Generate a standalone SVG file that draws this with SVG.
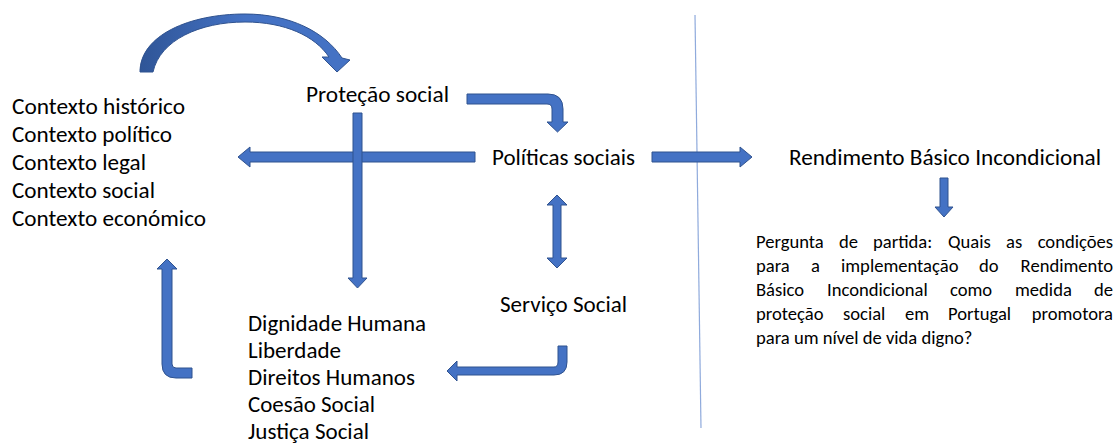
<svg xmlns="http://www.w3.org/2000/svg" width="1118" height="443" viewBox="0 0 1118 443">
<style>
.t{font-family:Carlito,Lato,"Liberation Sans",sans-serif;font-size:23px;fill:#000}
.p{font-family:Carlito,Lato,"Liberation Sans",sans-serif;font-size:18.6px;fill:#000}
.a{fill:#4472C4;stroke:#2F528F;stroke-width:1;stroke-linejoin:miter}
.sep{stroke:#8FAADC;stroke-width:1.2;fill:none}
</style>
<defs>
<linearGradient id="cg" x1="0" y1="0" x2="1" y2="0">
<stop offset="0" stop-color="#2F5597"/>
<stop offset="0.5" stop-color="#4472C4"/>
<stop offset="1" stop-color="#4472C4"/>
</linearGradient>
</defs>
<rect width="1118" height="443" fill="#fff"/>
<line class="sep" x1="695" y1="15" x2="701" y2="428"/>
<g id="connectors">
<path class="a" style="fill:url(#cg)" d="M140,72 C140,35 190,14 245,14 C290,14 325,32 342,58 L350,60 L337,72 L322,57 L329,57 C315,36 285,22 245,22 C200,22 160,40 153,72 Z"/>
<path class="a" d="M467,94 L548,94 Q563,94 563,109 L563,122 L568,122 L557.5,132 L547,122 L552,122 L552,109 Q552,104 547,104 L467,104 Z"/>
<path class="a" d="M475,152 L250,152 L250,147 L238,157 L250,167 L250,162 L475,162 Z"/>
<path class="a" d="M353,113 L362,113 L362,278 L367,278 L357.5,288 L348,278 L353,278 Z"/>
<path class="a" d="M557,195 L567,205 L561,205 L561,258 L567,258 L557,268 L547,258 L553,258 L553,205 L547,205 Z"/>
<path class="a" d="M558,346 L567,346 L567,362 Q567,375 554,375 L457,375 L457,381 L447,371 L457,361 L457,367 L554,367 Q558,367 558,362 Z"/>
<path class="a" d="M167,259 L177,269 L172,269 L172,364 Q172,368 176,368 L192,368 L192,378 L176,378 Q162,378 162,364 L162,269 L157,269 Z"/>
<path class="a" d="M652,152 L740,152 L740,147 L752,157 L740,167 L740,162 L652,162 Z"/>
<path class="a" d="M940,178 L948,178 L948,207 L953,207 L944,217 L935,207 L940,207 Z"/>
</g>
<g id="contextos">
<text class="t" x="12" y="114" textLength="173" lengthAdjust="spacingAndGlyphs">Contexto histórico</text>
<text class="t" x="12" y="142" textLength="160" lengthAdjust="spacingAndGlyphs">Contexto político</text>
<text class="t" x="12" y="170" textLength="134" lengthAdjust="spacingAndGlyphs">Contexto legal</text>
<text class="t" x="12" y="198" textLength="143" lengthAdjust="spacingAndGlyphs">Contexto social</text>
<text class="t" x="12" y="226" textLength="194" lengthAdjust="spacingAndGlyphs">Contexto económico</text>
</g>
<g id="protecao"><text class="t" x="306" y="102" textLength="143" lengthAdjust="spacingAndGlyphs">Proteção social</text></g>
<g id="politicas"><text class="t" x="492" y="165" textLength="143" lengthAdjust="spacingAndGlyphs">Políticas sociais</text></g>
<g id="rbi"><text class="t" x="789" y="165" textLength="312" lengthAdjust="spacingAndGlyphs">Rendimento Básico Incondicional</text></g>
<g id="servico"><text class="t" x="500" y="312" textLength="127" lengthAdjust="spacingAndGlyphs">Serviço Social</text></g>
<g id="valores">
<text class="t" x="248" y="331" textLength="178" lengthAdjust="spacingAndGlyphs">Dignidade Humana</text>
<text class="t" x="248" y="358" textLength="93" lengthAdjust="spacingAndGlyphs">Liberdade</text>
<text class="t" x="248" y="385" textLength="167" lengthAdjust="spacingAndGlyphs">Direitos Humanos</text>
<text class="t" x="248" y="412" textLength="127" lengthAdjust="spacingAndGlyphs">Coesão Social</text>
<text class="t" x="248" y="439" textLength="121" lengthAdjust="spacingAndGlyphs">Justiça Social</text>
</g>
<g id="pergunta">
<text class="p" y="248"><tspan x="756">Pergunta</tspan><tspan x="839">de</tspan><tspan x="873">partida:</tspan><tspan x="948">Quais</tspan><tspan x="1006">as</tspan><tspan x="1113" text-anchor="end">condições</tspan></text>
<text class="p" y="272"><tspan x="756">para</tspan><tspan x="811">a</tspan><tspan x="841">implementação</tspan><tspan x="979">do</tspan><tspan x="1113" text-anchor="end">Rendimento</tspan></text>
<text class="p" y="296"><tspan x="756">Básico</tspan><tspan x="827">Incondicional</tspan><tspan x="950">como</tspan><tspan x="1015">medida</tspan><tspan x="1113" text-anchor="end">de</tspan></text>
<text class="p" y="320"><tspan x="756">proteção</tspan><tspan x="843">social</tspan><tspan x="905">em</tspan><tspan x="948">Portugal</tspan><tspan x="1113" text-anchor="end">promotora</tspan></text>
<text class="p" x="756" y="344">para um nível de vida digno?</text>
</g>
</svg>
